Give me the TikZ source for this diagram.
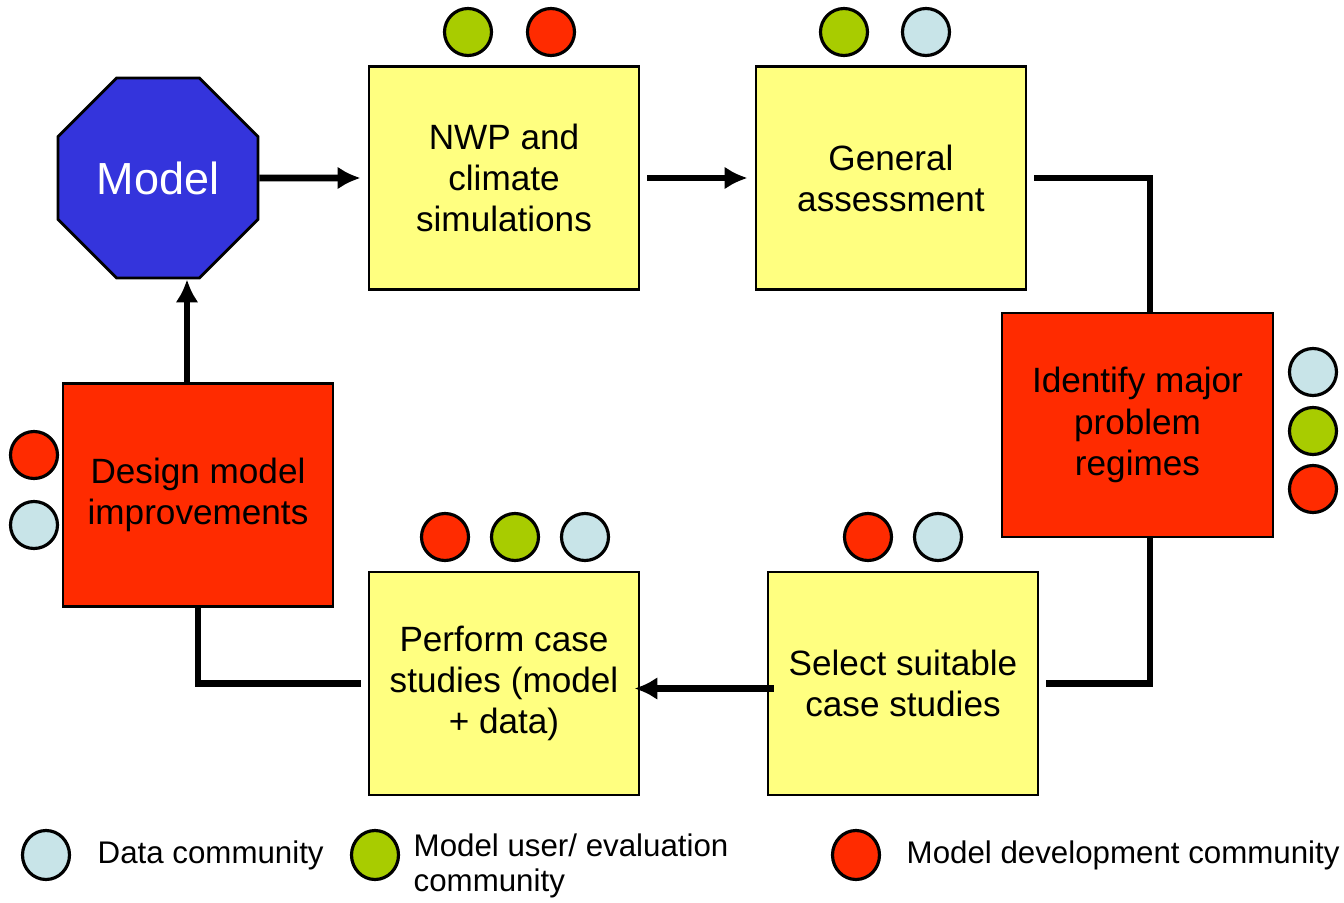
\documentclass[tikz,border=0pt]{standalone}
\usepackage{fontspec}
\setmainfont{Liberation Sans}
\usetikzlibrary{shapes.geometric,arrows.meta}
\definecolor{modelblue}{HTML}{3434DC}
\definecolor{boxyellow}{HTML}{FFFF80}
\definecolor{boxred}{HTML}{FF2B00}
\definecolor{usergreen}{HTML}{A8CC00}
\definecolor{datablue}{HTML}{C8E4E8}
\begin{document}
\begin{tikzpicture}[>={Latex[length=6.5pt,width=6.5pt]},
    box/.style={draw, line width=0.8pt, minimum width=2.7cm, minimum height=2.23cm,
        inner sep=0pt, align=center, font=\fontsize{10}{11.7}\selectfont},
    simbox/.style={box, fill=boxyellow},
    devbox/.style={box, fill=boxred},
    blob/.style={draw, line width=0.9pt, circle, minimum size=0.47cm, inner sep=0pt},
    link/.style={line width=1.9pt},
    legend/.style={anchor=west, inner sep=0pt, align=left, font=\fontsize{8.9}{10}\selectfont}]
\useasboundingbox[fill=white] (0,0) rectangle (13.44,9.02);
% process boxes
\node[regular polygon, regular polygon sides=8, minimum size=2.165cm,
      inner sep=0pt, draw, line width=0.8pt, fill=modelblue, text=white,
      font=\fontsize{12.8}{14}\selectfont] (model) at (1.58,7.24) {Model};
\node[simbox] (nwp) at (5.04,7.24) {NWP and\\climate\\simulations};
\node[simbox] (gen) at (8.91,7.24) {General\\assessment};
\node[devbox, minimum width=2.71cm, minimum height=2.24cm] (ident) at (11.375,4.77) {Identify major\\problem\\regimes};
\node[simbox] (sel) at (9.03,2.185) {Select suitable\\case studies};
\node[simbox] (perf) at (5.04,2.185) {Perform case\\studies (model\\+ data)};
\node[devbox] (design) at (1.98,4.07) {Design model\\improvements};
% connectors
\draw[link,->,shorten >=2pt] (model.east) -- (nwp.west);
\draw[link,->,shorten <=2pt,shorten >=2pt] (nwp.east) -- (gen.west);
\draw[link,shorten <=2pt] (gen.east) -| ([xshift=1.25mm]ident.north);
\draw[link] ([xshift=1.25mm]ident.south) |- ([xshift=2pt]sel.east);
\draw[link,->] ([xshift=0.7mm,yshift=-0.5mm]sel.west) -- ([xshift=-0.6mm,yshift=-0.5mm]perf.east);
\draw[link] ([xshift=-2pt]perf.west) -| (design.south);
\draw[link,->] ([xshift=-1.1mm]design.north) -- ([xshift=-1.1mm]design.north |- model.south);
% community dots
\node[blob, fill=usergreen] (nwp1) at (4.68,8.70) {};
\node[blob, fill=boxred] (nwp2) at (5.51,8.70) {};
\node[blob, fill=usergreen] (gen1) at (8.44,8.70) {};
\node[blob, fill=datablue] (gen2) at (9.26,8.70) {};
\node[blob, fill=datablue] (ident1) at (13.13,5.30) {};
\node[blob, fill=usergreen] (ident2) at (13.13,4.71) {};
\node[blob, fill=boxred] (ident3) at (13.13,4.13) {};
\node[blob, fill=boxred] (sel1) at (8.68,3.65) {};
\node[blob, fill=datablue] (sel2) at (9.38,3.65) {};
\node[blob, fill=boxred] (perf1) at (4.45,3.65) {};
\node[blob, fill=usergreen] (perf2) at (5.15,3.65) {};
\node[blob, fill=datablue] (perf3) at (5.85,3.65) {};
\node[blob, fill=boxred] (design1) at (0.34,4.47) {};
\node[blob, fill=datablue] (design2) at (0.34,3.77) {};
% legend
\node[blob, ellipse, minimum width=0.47cm, minimum height=0.49cm, fill=datablue] (keydata) at (0.46,0.47) {};
\node[legend] (keydatatext) at (0.97,0.47) {Data community};
\node[blob, ellipse, minimum width=0.47cm, minimum height=0.49cm, fill=usergreen] (keyuser) at (3.75,0.47) {};
\node[legend] (keyusertext) at (4.13,0.36) {Model user/ evaluation\\community};
\node[blob, ellipse, minimum width=0.47cm, minimum height=0.49cm, fill=boxred] (keydev) at (8.56,0.47) {};
\node[legend] (keydevtext) at (9.06,0.47) {Model development community};
\end{tikzpicture}
\end{document}
